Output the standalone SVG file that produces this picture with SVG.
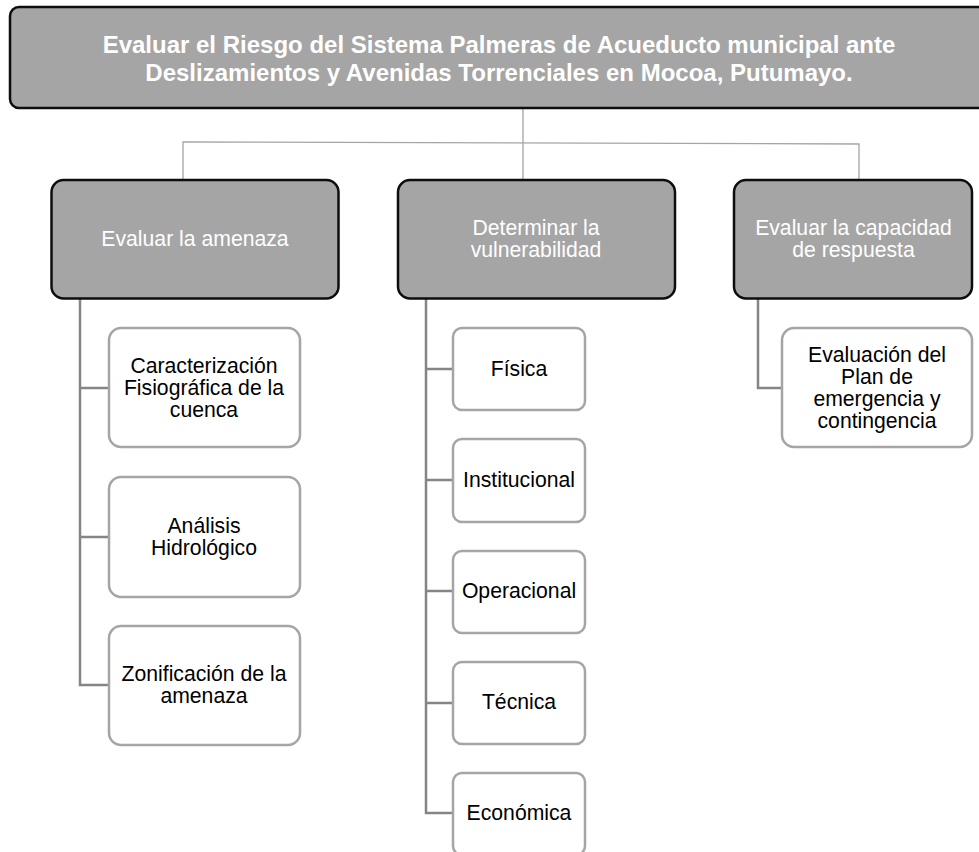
<svg xmlns="http://www.w3.org/2000/svg" width="979" height="852" viewBox="0 0 979 852">
<style>
text{font-family:"Liberation Sans",Arial,sans-serif;text-anchor:middle}
.top{fill:#a5a5a5;stroke:#0d0d0d;stroke-width:2.5}
.leaf{fill:#fff;stroke:#a5a5a5;stroke-width:2.5}
.tt{font-size:24px;font-weight:bold;fill:#fff}
.mt{font-size:21.2px;fill:#fff}
.lt{font-size:21.2px;fill:#000}
.c1{fill:none;stroke:#a5a5a5;stroke-width:1.3}
.c2{fill:none;stroke:#858585;stroke-width:2.5}
</style>
<rect width="979" height="852" fill="#fff"/>
<g id="connectors">
<path class="c1" d="M523 108V180"/>
<path class="c1" d="M183 180V142L859 144V180"/>
<path class="c2" d="M80 298V685H109M80 388H109M80 537H109"/>
<path class="c2" d="M426 298V813H453M426 369H453M426 480H453M426 591H453M426 703H453"/>
<path class="c2" d="M758 298V388H782"/>
</g>
<g id="root"><rect class="top" x="10" y="7" width="985" height="101" rx="9"/>
<text class="tt" x="499" y="53">Evaluar el Riesgo del Sistema Palmeras de Acueducto municipal ante</text>
<text class="tt" x="499" y="81">Deslizamientos y Avenidas Torrenciales en Mocoa, Putumayo.</text></g>
<g id="n-amenaza"><rect class="top" x="51.500" y="180" width="287" height="118.500" rx="12"/>
<text class="mt" x="195" y="246">Evaluar la amenaza</text></g>
<g id="n-vulnerabilidad"><rect class="top" x="398" y="180" width="277" height="118.500" rx="12"/>
<text class="mt" x="536" y="235">Determinar la</text><text class="mt" x="536" y="257">vulnerabilidad</text></g>
<g id="n-capacidad"><rect class="top" x="734" y="180" width="238" height="118.500" rx="12"/>
<text class="mt" x="853.500" y="235">Evaluar la capacidad</text><text class="mt" x="853.500" y="257">de respuesta</text></g>
<g id="l-caracterizacion"><rect class="leaf" x="109" y="328" width="191" height="119" rx="12"/>
<text class="lt" x="204" y="373">Caracterización</text><text class="lt" x="204" y="395">Fisiográfica de la</text><text class="lt" x="204" y="417">cuenca</text></g>
<g id="l-analisis"><rect class="leaf" x="109" y="477" width="191" height="120" rx="12"/>
<text class="lt" x="204" y="533">Análisis</text><text class="lt" x="204" y="555">Hidrológico</text></g>
<g id="l-zonificacion"><rect class="leaf" x="109" y="626" width="191" height="119" rx="12"/>
<text class="lt" x="204" y="681">Zonificación de la</text><text class="lt" x="204" y="703">amenaza</text></g>
<g id="l-fisica"><rect class="leaf" x="453" y="328" width="132" height="82" rx="9"/><text class="lt" x="519" y="376">Física</text></g>
<g id="l-institucional"><rect class="leaf" x="453" y="439" width="132" height="83" rx="9"/><text class="lt" x="519" y="487">Institucional</text></g>
<g id="l-operacional"><rect class="leaf" x="453" y="551" width="132" height="82" rx="9"/><text class="lt" x="519" y="598">Operacional</text></g>
<g id="l-tecnica"><rect class="leaf" x="453" y="662" width="132" height="82" rx="9"/><text class="lt" x="519" y="709">Técnica</text></g>
<g id="l-economica"><rect class="leaf" x="453" y="773" width="132" height="82" rx="9"/><text class="lt" x="519" y="820">Económica</text></g>
<g id="l-plan"><rect class="leaf" x="782" y="328" width="190" height="119" rx="12"/>
<text class="lt" x="877" y="362">Evaluación del</text><text class="lt" x="877" y="384">Plan de</text><text class="lt" x="877" y="406">emergencia y</text><text class="lt" x="877" y="428">contingencia</text></g>
</svg>
